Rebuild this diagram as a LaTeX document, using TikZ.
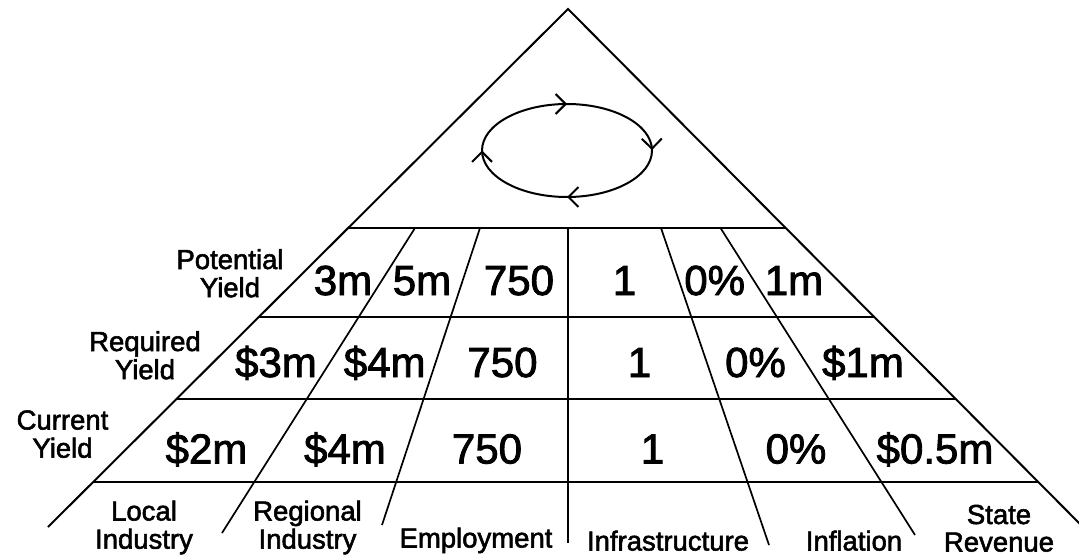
\documentclass[tikz,border=0pt]{standalone}
\usepackage{fontspec}
\setmainfont[FakeBold=2]{Liberation Sans}
\usetikzlibrary{calc,arrows.meta,decorations.markings}

% two centred lines whose first baseline is the baseline of the box
\newcommand{\stacklabel}[2]{\begin{tabular}[t]{@{}c@{}}#1\\#2\end{tabular}}

\begin{document}
\begin{tikzpicture}[x=1pt,y=-1pt,
  side/.style={line width=2pt},
  rowline/.style={line width=2.6pt},
  divider/.style={line width=1.7pt},
  cyclebarb/.style={line width=2pt, postaction={decorate},
    decoration={markings,
      mark=at position 0.25 with {\arrow{Straight Barb[length=10pt,width=20pt]}},
      mark=at position 0.5 with {\arrow{Straight Barb[length=10pt,width=20pt]}},
      mark=at position 0.75 with {\arrow{Straight Barb[length=10pt,width=20pt]}},
      mark=at position 0.999 with {\arrow{Straight Barb[length=10pt,width=20pt]}}}},
  value/.style={font=\fontsize{42}{42}\selectfont, inner sep=0pt, anchor=base},
  caption/.style={font=\fontsize{27.5}{27.5}\selectfont, inner sep=0pt, anchor=base},
]
\useasboundingbox[fill=white] (0,0) rectangle (1079,559);

% outer triangle
\coordinate (apex) at (568,9);
\coordinate (L) at (48,527);
\coordinate (R) at (1083,527);
\draw[side] (L) -- (apex) -- (R);

% horizontal row lines, ending on the two sides
\coordinate (h1l) at ($(apex)!0.4228!(L)$); \coordinate (h1r) at ($(apex)!0.4228!(R)$);
\coordinate (h2l) at ($(apex)!0.5946!(L)$); \coordinate (h2r) at ($(apex)!0.5946!(R)$);
\coordinate (h3l) at ($(apex)!0.7529!(L)$); \coordinate (h3r) at ($(apex)!0.7529!(R)$);
\coordinate (h4l) at ($(apex)!0.9131!(L)$); \coordinate (h4r) at ($(apex)!0.9131!(R)$);
\draw[rowline] (h1l) -- (h1r);
\draw[rowline] (h2l) -- (h2r);
\draw[rowline] (h3l) -- (h3r);
\draw[rowline] (h4l) -- (h4r);

% column dividers
\coordinate (a1) at (415,228);   \coordinate (a2) at (222,533);
\coordinate (b1) at (480,228);   \coordinate (b2) at (382,525);
\coordinate (c1) at (568,228);   \coordinate (c2) at (568,543);
\coordinate (d1) at (661,228);   \coordinate (d2) at (769,545);
\coordinate (e1) at (720.5,228); \coordinate (e2) at (915,535);
\draw[divider] (a1) -- (a2);
\draw[divider] (b1) -- (b2);
\draw[divider] (c1) -- (c2);
\draw[divider] (d1) -- (d2);
\draw[divider] (e1) -- (e2);

% cycle in the top compartment
\coordinate (cyc) at (567,150.5);
\draw[cyclebarb] (cyc) ++(85,0) arc[start angle=0, end angle=360, x radius=85, y radius=46.5];

% row captions
\node[caption] (potential) at (230,269)   {\stacklabel{Potential}{Yield}};
\node[caption] (required)  at (145,351)   {\stacklabel{Required}{Yield}};
\node[caption] (current)   at (62.5,429.5) {\stacklabel{Current}{Yield}};

% potential yield
\node[value] (p1) at (343,295)   {3m};
\node[value] (p2) at (422,295)   {5m};
\node[value] (p3) at (519,295)   {750};
\node[value] (p4) at (624.5,295) {1};
\node[value] (p5) at (714.7,295) {0\%};
\node[value] (p6) at (794,295)   {1m};

% required yield
\node[value] (q1) at (276,377)   {\$3m};
\node[value] (q2) at (384.7,377) {\$4m};
\node[value] (q3) at (502.5,377) {750};
\node[value] (q4) at (639.5,377) {1};
\node[value] (q5) at (755.5,377) {0\%};
\node[value] (q6) at (863,377)   {\$1m};

% current yield
\node[value] (r1) at (206.5,463.5) {\$2m};
\node[value] (r2) at (345,463.5)   {\$4m};
\node[value] (r3) at (487,463.5)   {750};
\node[value] (r4) at (652.5,463.5) {1};
\node[value] (r5) at (796,463.5)   {0\%};
\node[value] (r6) at (935,463.5)   {\$0.5m};

% column captions
\node[caption] (local)    at (144,520.5)  {\stacklabel{Local}{Industry}};
\node[caption] (regional) at (307.5,520.5){\stacklabel{Regional}{Industry}};
\node[caption] (employ)   at (476,547.5)  {Employment};
\node[caption] (infra)    at (668,550.5)  {Infrastructure};
\node[caption] (inflat)   at (854,550.5)  {Inflation};
\node[caption] (state)    at (999,524)    {\stacklabel{State}{Revenue}};
\end{tikzpicture}
\end{document}
